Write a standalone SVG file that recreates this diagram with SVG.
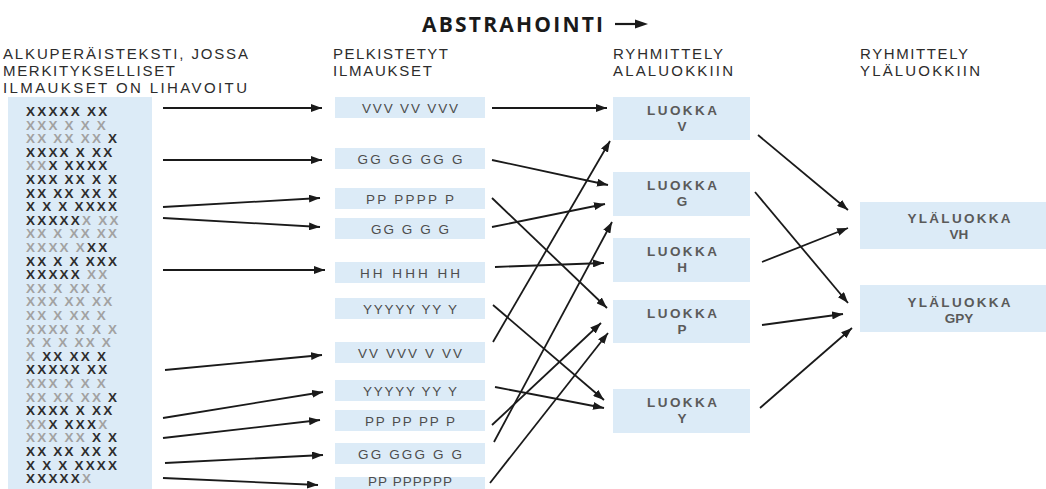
<svg xmlns="http://www.w3.org/2000/svg" width="1046" height="489" viewBox="0 0 1046 489">
<style>
.hdr{font-family:"Liberation Sans",Arial,sans-serif;font-size:15px;fill:#2c2c2c}
.ttl{font-family:"Open Sans","Liberation Sans",sans-serif;font-size:21px;font-weight:bold;fill:#1a1a1a}
.box{fill:#dcebf7}
.mid{font-family:"Liberation Sans",Arial,sans-serif;font-size:13.5px;fill:#4d4d4d;text-anchor:middle}
.cat{font-family:"Liberation Sans",Arial,sans-serif;font-size:13.5px;font-weight:bold;fill:#5a5a5a;text-anchor:middle}
.xs{font-family:"Liberation Sans",Arial,sans-serif;font-size:13.5px;font-weight:bold;letter-spacing:2.2px;word-spacing:-1px}
.b{fill:#2e2e2e}
.l{fill:#a2a2a2}
.cn line{stroke:#1a1a1a;stroke-width:1.8;marker-end:url(#ah)}
</style>
<defs>
<marker id="ah" markerUnits="userSpaceOnUse" markerWidth="11" markerHeight="8" refX="11" refY="4" orient="auto">
<path d="M0,0 L11,4 L0,8 z" fill="#1a1a1a"/>
</marker>
</defs>
<rect width="1046" height="489" fill="#fff"/>

<g id="title">
<text class="ttl" x="422" y="32" textLength="181">ABSTRAHOINTI</text>
<line x1="615" y1="24" x2="637" y2="24" stroke="#1a1a1a" stroke-width="2.2"/>
<path d="M635,19.5 L648,24 L635,28.5 z" fill="#1a1a1a"/>
</g>

<g id="headers">
<text class="hdr" x="3" y="59" textLength="245">ALKUPERÄISTEKSTI, JOSSA</text>
<text class="hdr" x="3" y="76" textLength="172">MERKITYKSELLISET</text>
<text class="hdr" x="3" y="93" textLength="244">ILMAUKSET ON LIHAVOITU</text>
<text class="hdr" x="333" y="59" textLength="115">PELKISTETYT</text>
<text class="hdr" x="333" y="76" textLength="99">ILMAUKSET</text>
<text class="hdr" x="613" y="59" textLength="110">RYHMITTELY</text>
<text class="hdr" x="613" y="76" textLength="120">ALALUOKKIIN</text>
<text class="hdr" x="860" y="59" textLength="108">RYHMITTELY</text>
<text class="hdr" x="860" y="76" textLength="120">YLÄLUOKKIIN</text>
</g>

<g id="source">
<rect class="box" x="8" y="97" width="144" height="392"/>
<g class="xs" xml:space="preserve">
<text x="26" y="116"><tspan class="b">XXXXX XX</tspan></text>
<text x="26" y="129.6"><tspan class="l">XXX X X X</tspan></text>
<text x="26" y="143.2"><tspan class="l">XX XX XX </tspan><tspan class="b">X</tspan></text>
<text x="26" y="156.8"><tspan class="b">XXXX X XX</tspan></text>
<text x="26" y="170.4"><tspan class="l">XX</tspan><tspan class="b">X XXXX</tspan></text>
<text x="26" y="184"><tspan class="b">XXX XX X X</tspan></text>
<text x="26" y="197.6"><tspan class="b">XX XX XX X</tspan></text>
<text x="26" y="211.2"><tspan class="b">X X X XXXX</tspan></text>
<text x="26" y="224.8"><tspan class="b">XXXXX</tspan><tspan class="l">X XX</tspan></text>
<text x="26" y="238.4"><tspan class="l">XX X XX XX</tspan></text>
<text x="26" y="252"><tspan class="l">XXXX X</tspan><tspan class="b">XX</tspan></text>
<text x="26" y="265.6"><tspan class="b">XX X X XXX</tspan></text>
<text x="26" y="279.2"><tspan class="b">XXXXX</tspan><tspan class="l">   XX</tspan></text>
<text x="26" y="292.8"><tspan class="l">XX X XX X</tspan></text>
<text x="26" y="306.4"><tspan class="l">XXX XX XX</tspan></text>
<text x="26" y="320"><tspan class="l">XX X XX X</tspan></text>
<text x="26" y="333.6"><tspan class="l">XXXX X X X</tspan></text>
<text x="26" y="347.2"><tspan class="l">X X X XX X</tspan></text>
<text x="26" y="360.8"><tspan class="l">X </tspan><tspan class="b">XX XX X</tspan></text>
<text x="26" y="374.4"><tspan class="b">XXXXX XX</tspan></text>
<text x="26" y="388"><tspan class="l">XXX X X X</tspan></text>
<text x="26" y="401.6"><tspan class="l">XX XX XX </tspan><tspan class="b">X</tspan></text>
<text x="26" y="415.2"><tspan class="b">XXXX X XX</tspan></text>
<text x="26" y="428.8"><tspan class="l">XX</tspan><tspan class="b">X XXX</tspan><tspan class="l">X</tspan></text>
<text x="26" y="442.4"><tspan class="l">XXX XX </tspan><tspan class="b">X X</tspan></text>
<text x="26" y="456"><tspan class="b">XX XX XX X</tspan></text>
<text x="26" y="469.6"><tspan class="b">X X X XXXX</tspan></text>
<text x="26" y="483.2"><tspan class="b">XXXXX</tspan><tspan class="l">X</tspan></text>
</g>
</g>

<g id="m1"><rect class="box" x="335" y="97" width="150" height="21"/><text class="mid" x="410" y="112.5" textLength="96">VVV VV VVV</text></g>
<g id="m2"><rect class="box" x="335" y="148" width="150" height="21"/><text class="mid" x="410" y="163.5" textLength="105">GG GG GG G</text></g>
<g id="m3"><rect class="box" x="335" y="188" width="150" height="21"/><text class="mid" x="410" y="203.5" textLength="88">PP PPPP P</text></g>
<g id="m4"><rect class="box" x="335" y="218" width="150" height="21"/><text class="mid" x="410" y="233.5" textLength="78">GG G G G</text></g>
<g id="m5"><rect class="box" x="335" y="262" width="150" height="21"/><text class="mid" x="410" y="277.5" textLength="100">HH HHH HH</text></g>
<g id="m6"><rect class="box" x="335" y="298" width="150" height="21"/><text class="mid" x="410" y="313.5" textLength="94">YYYYY YY Y</text></g>
<g id="m7"><rect class="box" x="335" y="342" width="150" height="21"/><text class="mid" x="410" y="357.5" textLength="104">VV VVV V VV</text></g>
<g id="m8"><rect class="box" x="335" y="380" width="150" height="21"/><text class="mid" x="410" y="395.5" textLength="94">YYYYY YY Y</text></g>
<g id="m9"><rect class="box" x="335" y="410" width="150" height="21"/><text class="mid" x="410" y="425.5" textLength="90">PP PP PP P</text></g>
<g id="m10"><rect class="box" x="335" y="443" width="150" height="21"/><text class="mid" x="410" y="458.5" textLength="104">GG GGG G G</text></g>
<g id="m11"><rect class="box" x="335" y="477" width="150" height="12"/><text class="mid" x="410" y="486" textLength="84">PP PPPPPP</text></g>

<g id="cV"><rect class="box" x="613" y="97" width="137" height="43"/><text class="cat" x="682" y="115" textLength="70">LUOKKA</text><text class="cat" x="682" y="130.5">V</text></g>
<g id="cG"><rect class="box" x="613" y="172" width="137" height="44"/><text class="cat" x="682" y="190" textLength="70">LUOKKA</text><text class="cat" x="682" y="205.5">G</text></g>
<g id="cH"><rect class="box" x="613" y="238" width="137" height="44"/><text class="cat" x="682" y="256" textLength="70">LUOKKA</text><text class="cat" x="682" y="271.5">H</text></g>
<g id="cP"><rect class="box" x="613" y="300" width="137" height="43"/><text class="cat" x="682" y="318" textLength="70">LUOKKA</text><text class="cat" x="682" y="333.5">P</text></g>
<g id="cY"><rect class="box" x="613" y="389" width="137" height="44"/><text class="cat" x="682" y="407" textLength="70">LUOKKA</text><text class="cat" x="682" y="422.5">Y</text></g>

<g id="uVH"><rect class="box" x="860" y="202" width="186" height="47"/><text class="cat" x="959" y="223" textLength="103">YLÄLUOKKA</text><text class="cat" x="959" y="238.5">VH</text></g>
<g id="uGPY"><rect class="box" x="860" y="285" width="186" height="47"/><text class="cat" x="959" y="307" textLength="103">YLÄLUOKKA</text><text class="cat" x="959" y="322.5">GPY</text></g>

<g id="connectors" class="cn">
<line x1="163" y1="108" x2="322" y2="108"/>
<line x1="163" y1="160" x2="322" y2="160"/>
<line x1="163" y1="207" x2="320" y2="198"/>
<line x1="163" y1="218" x2="320" y2="227"/>
<line x1="163" y1="270" x2="325" y2="270"/>
<line x1="165" y1="370" x2="322" y2="355"/>
<line x1="163" y1="418" x2="323" y2="392"/>
<line x1="163" y1="438" x2="320" y2="420"/>
<line x1="165" y1="463" x2="323" y2="455"/>
<line x1="163" y1="478" x2="318" y2="485"/>

<line x1="492" y1="108" x2="607" y2="108"/>
<line x1="492" y1="160" x2="608" y2="185"/>
<line x1="492" y1="198" x2="607" y2="308"/>
<line x1="492" y1="227" x2="605" y2="204"/>
<line x1="495" y1="267" x2="604" y2="263"/>
<line x1="493" y1="342" x2="610" y2="141"/>
<line x1="493" y1="305" x2="604" y2="400"/>
<line x1="495" y1="387" x2="604" y2="408"/>
<line x1="492" y1="425" x2="601" y2="323"/>
<line x1="494" y1="442" x2="612" y2="222"/>
<line x1="490" y1="483" x2="608" y2="333"/>

<line x1="758" y1="135" x2="848" y2="210"/>
<line x1="755" y1="192" x2="848" y2="303"/>
<line x1="762" y1="262" x2="848" y2="228"/>
<line x1="762" y1="325" x2="843" y2="314"/>
<line x1="760" y1="408" x2="852" y2="328"/>
</g>
</svg>
